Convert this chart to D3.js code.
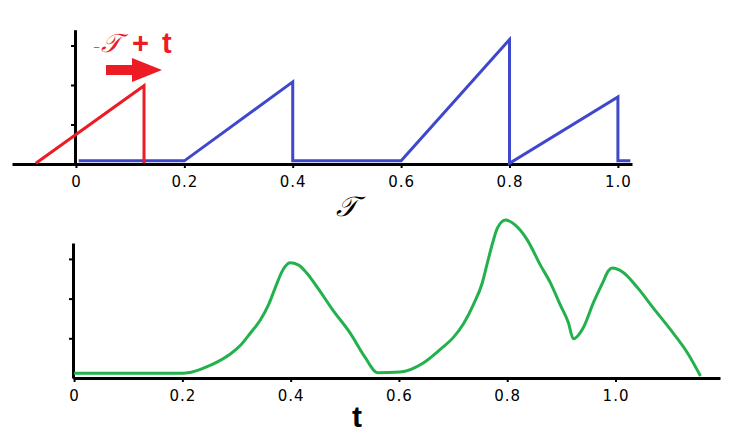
<!DOCTYPE html>
<html><head><meta charset="utf-8">
<script src="https://cdn.jsdelivr.net/npm/d3@7"></script>
<style>body{margin:0;background:#fff}svg{display:block}</style>
</head><body>
<script>
// ---- data ----
const xTickValues = [0, 0.2, 0.4, 0.6, 0.8, 1.0];
const xTickLabels = ["0", "0.2", "0.4", "0.6", "0.8", "1.0"];
const yTickValues = [1, 2, 3];
// top panel: kernel (blue) and shifted ramp (red)
const blueTau = [0.005, 0.2, 0.4, 0.4, 0.6, 0.8, 0.8, 1.0, 1.0, 1.023];
const blueVal = [0.08, 0.08, 2.08, 0.08, 0.08, 3.15, 0.02, 1.7, 0.08, 0.08];
const redTau = [-0.074, 0.1256, 0.1256];
const redVal = [0.02, 1.98, 0.02];
// bottom panel: convolution result (green)
const greenT = [0, 0.2, 0.214, 0.239, 0.264, 0.288, 0.307, 0.325, 0.344, 0.359, 0.372, 0.384, 0.399, 0.414, 0.43, 0.449, 0.478, 0.51, 0.537, 0.561, 0.602, 0.645, 0.677, 0.701, 0.719, 0.738, 0.754, 0.763, 0.773, 0.782, 0.797, 0.815, 0.837, 0.861, 0.88, 0.898, 0.913, 0.922, 0.941, 0.959, 0.976, 0.987, 0.994, 1.013, 1.041, 1.07, 1.102, 1.133, 1.157];
const greenVal = [0.12, 0.12, 0.14, 0.25, 0.40, 0.60, 0.82, 1.12, 1.46, 1.84, 2.29, 2.68, 2.90, 2.85, 2.64, 2.29, 1.71, 1.13, 0.53, 0.13, 0.15, 0.38, 0.73, 1.03, 1.36, 1.86, 2.40, 2.88, 3.40, 3.78, 3.98, 3.85, 3.48, 2.85, 2.39, 1.84, 1.39, 0.99, 1.28, 1.89, 2.39, 2.70, 2.77, 2.67, 2.27, 1.76, 1.21, 0.63, 0.05];

const W = 734, H = 443;
const svg = d3.select("body").append("svg").attr("width", W).attr("height", H);

const RED = "#ed1c24", BLUE = "#3f48cc", GREEN = "#22b14c";
const fmt = d => xTickLabels[xTickValues.indexOf(d)];

// ---- top panel ----
const xTop = d3.scaleLinear().domain([-0.118, 1.026]).range([12, 632]);
const yTop = d3.scaleLinear().domain([0, 3.4]).range([164, 164 - 3.4 * 39.5]);

svg.append("g").attr("transform", "translate(0,164)")
  .call(d3.axisBottom(xTop).tickValues(xTickValues).tickFormat(fmt).tickSize(4).tickSizeOuter(0).tickPadding(8));
svg.append("g").attr("transform", "translate(75,0)")
  .call(d3.axisLeft(yTop).tickValues(yTickValues).tickFormat("").tickSize(4).tickSizeOuter(0));

const line = (xs, ys, xsc, ysc) => d3.line().x((d, i) => xsc(xs[i])).y((d, i) => ysc(ys[i]))(xs);

svg.append("path").attr("d", line(blueTau, blueVal, xTop, yTop))
  .attr("fill", "none").attr("stroke", BLUE).attr("stroke-width", 3);
svg.append("path").attr("d", line(redTau, redVal, xTop, yTop))
  .attr("fill", "none").attr("stroke", RED).attr("stroke-width", 3);

// red annotation  "-𝒯+ t"
svg.append("text").attr("x", 93).attr("y", 53).attr("fill", RED)
  .attr("font-family", "DejaVu Sans").attr("font-weight", 300).attr("font-size", 20).text("-");
svg.append("text").attr("x", 101).attr("y", 52).attr("fill", RED)
  .attr("font-family", "DejaVu Serif").attr("font-style", "italic").attr("font-size", 26).text("𝒯");
svg.append("text").attr("x", 132).attr("y", 53).attr("fill", RED)
  .attr("font-family", "Liberation Sans").attr("font-weight", "bold").attr("font-size", 29).text("+");
svg.append("text").attr("x", 162).attr("y", 53).attr("fill", RED)
  .attr("font-family", "Liberation Sans").attr("font-weight", "bold").attr("font-size", 29).text("t");
// arrow
svg.append("path")
  .attr("d", `M106,65 L132,65 L132,58 L162,70 L132,82 L132,75 L106,75 Z`)
  .attr("fill", RED);

// axis label top
svg.append("text").attr("x", 346).attr("y", 216).attr("text-anchor", "middle")
  .attr("font-family", "DejaVu Serif").attr("font-style", "italic").attr("font-size", 28).text("𝒯");

// ---- bottom panel ----
const xBot = d3.scaleLinear().domain([-0.002, 1.193]).range([73, 720]);
const yBot = d3.scaleLinear().domain([0, 3.4]).range([378, 378 - 3.4 * 39.7]);

svg.append("g").attr("transform", "translate(0,378)")
  .call(d3.axisBottom(xBot).tickValues(xTickValues).tickFormat(fmt).tickSize(4).tickSizeOuter(0).tickPadding(8));
svg.append("g").attr("transform", "translate(73,0)")
  .call(d3.axisLeft(yBot).tickValues(yTickValues).tickFormat("").tickSize(4).tickSizeOuter(0));

svg.append("path").attr("d", d3.line().curve(d3.curveMonotoneX)
    .x((d, i) => xBot(greenT[i])).y((d, i) => yBot(greenVal[i]))(greenT))
  .attr("fill", "none").attr("stroke", GREEN).attr("stroke-width", 3);

svg.append("text").attr("x", 357).attr("y", 427).attr("text-anchor", "middle")
  .attr("font-family", "Liberation Sans").attr("font-weight", "bold").attr("font-size", 30).text("t");

// axis styling
svg.selectAll(".domain").attr("stroke", "#000").attr("stroke-width", 3);
svg.selectAll(".tick line").attr("stroke", "#000").attr("stroke-width", 2);
svg.selectAll(".tick text").attr("font-family", "DejaVu Sans").attr("font-size", 15)
  .attr("letter-spacing", 1).attr("fill", "#000");
</script>
</body></html>
